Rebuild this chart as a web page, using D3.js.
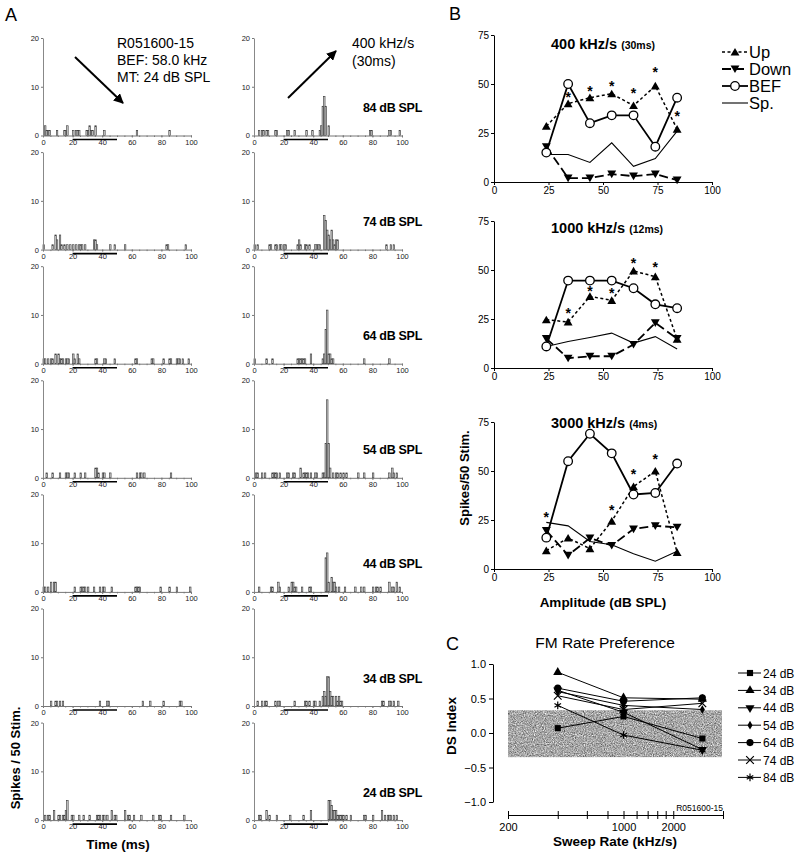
<!DOCTYPE html>
<html><head><meta charset="utf-8">
<script src="https://cdn.jsdelivr.net/npm/d3@7"></script>
<style>body{margin:0;background:#fff} text{font-family:"Liberation Sans",Arial,Helvetica,sans-serif}</style>
</head><body>
<svg id="chart" width="800" height="857"></svg>
<script>
// ---------- DATA ----------
// Panel A: PSTHs, [time bin (ms), spike count]
const levels = [84, 74, 64, 54, 44, 34, 24];
const levelLabels = ["84 dB SPL","74 dB SPL","64 dB SPL","54 dB SPL","44 dB SPL","34 dB SPL","24 dB SPL"];
const psthBEF = [
  [[1,2],[2,1],[3,1],[4,1],[9,1],[14,1],[15,1],[16,2],[20,1],[22,1],[23,1],[24,1],[29,1],[30,1],[31,2],[32,1],[33,1],[35,2],[41,1],[63,1],[85,1]],
  [[0,1],[6,1],[8,3],[9,2],[11,3],[12,1],[14,1],[16,1],[18,1],[20,1],[22,1],[24,1],[25,1],[26,1],[28,1],[34,2],[35,2],[36,1],[45,1],[48,1],[55,1],[83,1],[84,1],[96,1]],
  [[0,1],[1,1],[3,1],[5,1],[6,1],[8,2],[10,2],[11,1],[12,1],[13,1],[15,1],[16,1],[17,1],[20,2],[21,1],[23,2],[24,1],[35,1],[36,1],[41,1],[42,1],[48,1],[62,1],[63,1],[73,1],[74,1],[81,1],[85,1],[86,1],[90,1],[91,1],[92,1],[94,1],[98,1]],
  [[2,1],[6,1],[11,1],[15,1],[16,1],[17,1],[21,1],[25,1],[28,1],[35,2],[36,2],[37,1],[40,1],[41,1],[45,1],[63,1],[65,1],[66,1],[68,1],[86,1]],
  [[0,1],[1,1],[3,1],[5,2],[7,2],[8,2],[21,1],[25,1],[26,1],[27,1],[28,1],[30,1],[34,1],[38,1],[40,1],[41,1],[46,1],[62,1],[63,1],[64,1],[65,1],[79,1],[85,1],[90,1],[99,1]],
  [[5,1],[8,1],[9,1],[11,1],[13,1],[38,1],[43,1],[44,1],[67,1],[72,1],[81,1],[92,1],[93,1]],
  [[1,1],[3,1],[4,1],[7,2],[10,1],[11,1],[13,1],[14,1],[15,2],[16,4],[19,1],[20,1],[24,1],[27,1],[31,1],[36,1],[37,1],[38,1],[40,1],[41,1],[43,1],[46,2],[48,1],[49,1],[55,2],[57,1],[58,1],[61,1],[66,1],[74,1],[78,1],[79,1],[86,1],[95,1]]
];
const psthUp400 = [
  [[3,1],[5,1],[6,1],[8,1],[9,1],[14,1],[15,1],[22,1],[23,1],[27,1],[35,1],[39,1],[44,1],[45,2],[46,6],[47,8],[48,6],[50,2],[78,1],[79,1],[91,1],[92,1],[98,1]],
  [[0,1],[2,1],[10,1],[11,1],[14,1],[15,1],[17,1],[18,1],[20,1],[21,1],[29,1],[30,2],[31,1],[34,1],[35,1],[37,1],[41,1],[42,1],[43,1],[44,1],[47,7],[48,6],[49,4],[50,3],[51,2],[52,4],[53,2],[54,1],[55,2],[56,2],[89,1],[92,1],[94,1]],
  [[0,1],[8,1],[12,1],[29,1],[30,1],[31,1],[32,1],[33,1],[34,1],[38,2],[46,1],[47,2],[48,7],[49,11],[50,2],[51,2],[52,1],[53,1],[74,1],[91,1]],
  [[1,1],[2,1],[5,1],[7,1],[12,1],[13,1],[14,1],[15,1],[17,1],[22,1],[23,1],[26,1],[27,1],[31,2],[33,1],[34,1],[35,1],[36,1],[38,1],[41,1],[42,1],[46,1],[47,1],[48,7],[49,16],[50,7],[51,2],[53,1],[55,1],[56,1],[58,1],[60,1],[62,1],[70,1],[74,1],[80,1],[91,1],[93,2],[94,1],[96,1]],
  [[3,1],[11,1],[12,1],[16,2],[17,1],[23,1],[25,2],[26,2],[27,1],[28,1],[32,1],[37,1],[38,1],[48,7],[49,8],[50,2],[52,3],[53,2],[54,2],[55,1],[57,1],[61,1],[68,1],[72,1],[74,1],[80,1],[82,1],[83,1],[85,1],[91,2],[93,1],[94,1],[96,2],[98,1]],
  [[2,1],[5,1],[7,1],[8,1],[14,1],[16,1],[17,1],[27,1],[34,1],[35,1],[37,1],[40,1],[41,1],[44,1],[46,2],[47,3],[48,2],[49,6],[50,6],[51,3],[52,2],[53,2],[55,2],[56,1],[57,2],[58,1],[59,1],[86,1],[87,1],[91,1],[92,1],[94,1],[97,1]],
  [[3,1],[4,1],[8,2],[10,1],[15,1],[24,1],[33,1],[38,2],[50,4],[51,4],[52,3],[53,2],[54,2],[55,2],[56,1],[57,1],[58,1],[59,1],[60,1],[62,1],[65,1],[74,1],[75,1],[80,1],[86,2],[88,1],[90,1],[91,1],[92,1],[94,1],[96,1]]
];
const psthXTicks = [0, 20, 40, 60, 80, 100];
const psthYTicks = [0, 10, 20];
const stimWindow = [20, 50];

// Panel B: rate-level functions
const amplitudes = [24, 34, 44, 54, 64, 74, 84];
const rateTitles = ["400 kHz/s", "1000 kHz/s", "3000 kHz/s"];
const rateDurations = ["(30ms)", "(12ms)", "(4ms)"];
const upSpikes = [
  [28.5, 40, 43, 45, 39, 49, 27],
  [24.6, 23.5, 36.5, 34.5, 49.5, 46.6, 14.7],
  [9.4, 15.8, 10.4, 24.4, 42, 50, 8.5]
];
const downSpikes = [
  [18, 2, 2, 4, 3, 4, 1],
  [15, 5, 6, 6, 12, 23, 15],
  [19.6, 7, 15.8, 12, 20.4, 22, 21.3]
];
const befSpikes = [
  [15, 50, 30, 34, 34, 18, 43],
  [11, 44.6, 44.6, 44.6, 40.7, 32.5, 30.5],
  [16, 55, 69, 59, 38, 38.8, 53.8]
];
const spontSpikes = [
  [14, 14, 10, 20, 8, 12, 26],
  [11, 13.5, 15.6, 17.8, 12.7, 16, 9.7],
  [23.8, 22, 14, 12.4, 7.8, 4, 9]
];
const starAmps = [
  [34, 44, 54, 64, 74, 84],
  [34, 44, 54, 64, 74],
  [24, 54, 64, 74]
];
const starLevels = [
  [45, 48, 50.5, 47, 57.5, 35],
  [29.7, 41, 39.8, 55, 53],
  [28.3, 31.7, 50, 57.6]
];
const bXTicks = [0, 25, 50, 75, 100];
const bYTicks = [0, 25, 50, 75];
const bLegend = ["Up", "Down", "BEF", "Sp."];

// Panel C: DS index
const sweepRates = [400, 1000, 3000];
const dsLevels = ["24 dB", "34 dB", "44 dB", "54 dB", "64 dB", "74 dB", "84 dB"];
const dsIndex = [
  [0.07, 0.24, -0.08],
  [0.88, 0.51, 0.49],
  [0.62, 0.30, -0.24],
  [0.60, 0.40, 0.34],
  [0.65, 0.46, 0.51],
  [0.54, 0.34, 0.43],
  [0.40, -0.03, -0.25]
];
const dsBand = [-0.35, 0.33];
const cXTicks = [200, 400, 600, 800, 1000, 1200, 1400, 1600, 1800, 2000, 4000];
const cXLabels = [200, 1000, 2000];
const cYTicks = [-1, -0.5, 0, 0.5, 1];

// ---------- DRAW ----------
const svg = d3.select("#chart");
const FONT = '"Liberation Sans", Arial, Helvetica, sans-serif';

const defs = svg.append("defs");
defs.append("marker").attr("id","arrow").attr("viewBox","0 0 10 10").attr("refX",9).attr("refY",5)
  .attr("markerWidth",5).attr("markerHeight",5).attr("orient","auto")
  .append("path").attr("d","M0,0 L10,5 L0,10 Z").attr("fill","#000");
const flt = defs.append("filter").attr("id","noise").attr("x",0).attr("y",0).attr("width","100%").attr("height","100%")
  .attr("color-interpolation-filters","sRGB");
flt.append("feTurbulence").attr("type","fractalNoise").attr("baseFrequency","0.9").attr("numOctaves",2).attr("seed",4).attr("result","t");
flt.append("feColorMatrix").attr("in","t").attr("type","matrix")
  .attr("values","0.6 0.6 0 0 0.05  0.6 0.6 0 0 0.05  0.6 0.6 0 0 0.05  0 0 0 0 1").attr("result","g");
flt.append("feComposite").attr("in","g").attr("in2","SourceGraphic").attr("operator","in");

// panel letters
svg.append("text").attr("x",5).attr("y",21).attr("font-size",18).text("A");
svg.append("text").attr("x",449).attr("y",20).attr("font-size",18).text("B");
svg.append("text").attr("x",446).attr("y",650).attr("font-size",18).text("C");

// ---- Panel A ----
const rowTop0 = 38, rowStep = 114.1, rowH = 97.5;
function psth(data, x0, x1, top) {
  const base = top + rowH;
  const g = svg.append("g");
  const xs = d3.scaleLinear().domain([0,100]).range([x0,x1]);
  const ys = d3.scaleLinear().domain([0,20]).range([base, top]);
  g.selectAll("rect.bar").data(data).join("rect").attr("class","bar")
    .attr("x", d => xs(d[0])).attr("width", d => xs(d[0]+1)-xs(d[0]))
    .attr("y", d => ys(d[1])).attr("height", d => base - ys(d[1]))
    .attr("fill","#d0d0d0").attr("stroke","#333").attr("stroke-width",0.6);
  const gm = g.append("g").attr("transform",`translate(0,${base})`)
    .call(d3.axisBottom(xs).tickValues(d3.range(0,101,5)).tickSize(1.5).tickFormat(""));
  gm.select(".domain").remove();
  gm.selectAll("line").attr("stroke","#777");
  const gx = g.append("g").attr("transform",`translate(0,${base})`)
    .call(d3.axisBottom(xs).tickValues(psthXTicks).tickSize(2).tickPadding(2).tickSizeOuter(0));
  gx.select(".domain").attr("stroke","#777");
  gx.selectAll("line").attr("stroke","#777");
  gx.selectAll("text").attr("font-size",7.5).attr("font-family",FONT).attr("fill","#222");
  const gy = g.append("g").attr("transform",`translate(${x0},0)`)
    .call(d3.axisLeft(ys).tickValues(psthYTicks).tickSize(2).tickPadding(2).tickSizeOuter(0));
  gy.select(".domain").attr("stroke","#888");
  gy.selectAll("line").attr("stroke","#777");
  gy.selectAll("text").attr("font-size",7.5).attr("font-family",FONT).attr("fill","#222");
  g.append("line").attr("x1",xs(stimWindow[0])).attr("x2",xs(stimWindow[1]))
    .attr("y1",base+4).attr("y2",base+4).attr("stroke","#000").attr("stroke-width",1.6);
}
levels.forEach((lv,i) => {
  const top = rowTop0 + i*rowStep;
  psth(psthBEF[i], 43, 191, top);
  psth(psthUp400[i], 254, 402, top);
  svg.append("text").attr("x",422).attr("y",top+74).attr("text-anchor","end")
    .attr("font-size",12.5).attr("font-weight","bold").attr("letter-spacing",-0.3).text(levelLabels[i]);
});
["R051600-15","BEF: 58.0 kHz","MT: 24 dB SPL"].forEach((t,i)=>{
  svg.append("text").attr("x",117).attr("y",48+i*17).attr("font-size",14).text(t);
});
["400 kHz/s","(30ms)"].forEach((t,i)=>{
  svg.append("text").attr("x",352).attr("y",48+i*18).attr("font-size",14).text(t);
});
svg.append("line").attr("x1",75).attr("y1",57).attr("x2",123).attr("y2",103)
  .attr("stroke","#000").attr("stroke-width",2).attr("marker-end","url(#arrow)");
svg.append("line").attr("x1",288).attr("y1",98).attr("x2",336).attr("y2",51)
  .attr("stroke","#000").attr("stroke-width",2).attr("marker-end","url(#arrow)");
svg.append("text").attr("x",118).attr("y",849).attr("text-anchor","middle")
  .attr("font-size",13.5).attr("font-weight","bold").text("Time (ms)");
svg.append("text").attr("transform","translate(20,758) rotate(-90)").attr("text-anchor","middle")
  .attr("font-size",13).attr("font-weight","bold").text("Spikes / 50 Stim.");

// ---- Panel B ----
const bBase = [182, 368, 569];
const bTitleOffset = [133, 135, 141];
const bx = d3.scaleLinear().domain([0,100]).range([494,712]);
const triUp = d3.symbol().type(d3.symbolTriangle).size(34);
const triDn = d3.symbol().type(d3.symbolTriangle).size(34);
function drawSeries(g, xs, ys, vals, style) {
  const pts = amplitudes.map((a,i)=>[a, vals[i]]);
  g.append("path").datum(pts)
    .attr("d", d3.line().x(d=>xs(d[0])).y(d=>ys(d[1])))
    .attr("fill","none").attr("stroke","#000").attr("stroke-width",style.w)
    .attr("stroke-dasharray",style.dash || null);
  if (style.marker === "up") {
    g.selectAll(null).data(pts).join("path").attr("d",triUp())
      .attr("transform",d=>`translate(${xs(d[0])},${ys(d[1])+1})`).attr("fill","#000");
  } else if (style.marker === "down") {
    g.selectAll(null).data(pts).join("path").attr("d",triDn())
      .attr("transform",d=>`translate(${xs(d[0])},${ys(d[1])-1}) rotate(180)`).attr("fill","#000");
  } else if (style.marker === "circle") {
    g.selectAll(null).data(pts).join("circle").attr("cx",d=>xs(d[0])).attr("cy",d=>ys(d[1]))
      .attr("r",4.3).attr("fill","#fff").attr("stroke","#000").attr("stroke-width",1.3);
  }
}
const styles = {
  up: {w:1.5, dash:"3,2.5", marker:"up"},
  down: {w:1.8, dash:"9,4", marker:"down"},
  bef: {w:1.8, marker:"circle"},
  sp: {w:1.1}
};
rateTitles.forEach((t,p) => {
  const base = bBase[p];
  const ys = d3.scaleLinear().domain([0,75]).range([base, base-147]);
  const g = svg.append("g");
  const gx = g.append("g").attr("transform",`translate(0,${base})`)
    .call(d3.axisBottom(bx).tickValues(bXTicks).tickSize(3).tickSizeOuter(0).tickPadding(2));
  gx.selectAll("text").attr("font-size",10).attr("font-family",FONT);
  const gy = g.append("g").attr("transform",`translate(${bx(0)},0)`)
    .call(d3.axisLeft(ys).tickValues(bYTicks).tickSize(3).tickSizeOuter(0).tickPadding(2));
  gy.selectAll("text").attr("font-size",10).attr("font-family",FONT);
  const title = g.append("text").attr("x",551).attr("y",base-bTitleOffset[p]).attr("font-weight","bold").attr("font-size",14.5);
  title.append("tspan").text(t + " ");
  title.append("tspan").attr("font-size",10.5).text(rateDurations[p]);
  drawSeries(g, bx, ys, spontSpikes[p], styles.sp);
  drawSeries(g, bx, ys, downSpikes[p], styles.down);
  drawSeries(g, bx, ys, upSpikes[p], styles.up);
  drawSeries(g, bx, ys, befSpikes[p], styles.bef);
  g.selectAll(null).data(starAmps[p].map((a,i)=>[a, starLevels[p][i]])).join("text")
    .attr("x",d=>bx(d[0])).attr("y",d=>ys(d[1])+8).attr("text-anchor","middle")
    .attr("font-size",14).attr("font-weight","bold").text("*");
});
svg.append("text").attr("transform","translate(469,478) rotate(-90)").attr("text-anchor","middle")
  .attr("font-size",13).attr("font-weight","bold").text("Spikes/50 Stim.");
svg.append("text").attr("x",603).attr("y",607).attr("text-anchor","middle")
  .attr("font-size",13.5).attr("font-weight","bold").text("Amplitude (dB SPL)");
const legStyles = [styles.up, styles.down, styles.bef, styles.sp];
bLegend.forEach((name,i)=>{
  const y = 52 + i*17;
  const g = svg.append("g");
  g.append("line").attr("x1",722).attr("x2",748).attr("y1",y).attr("y2",y)
    .attr("stroke","#000").attr("stroke-width",legStyles[i].w).attr("stroke-dasharray",legStyles[i].dash||null);
  const m = legStyles[i].marker;
  if (m==="up") g.append("path").attr("d",triUp()).attr("transform",`translate(735,${y+1})`);
  if (m==="down") g.append("path").attr("d",triDn()).attr("transform",`translate(735,${y-1}) rotate(180)`);
  if (m==="circle") g.append("circle").attr("cx",735).attr("cy",y).attr("r",4.3).attr("fill","#fff").attr("stroke","#000").attr("stroke-width",1.3);
  g.append("text").attr("x",749).attr("y",y+6).attr("font-size",16.5).text(name);
});

// ---- Panel C ----
const cx = d3.scaleLog().domain([200,4000]).range([508,723]);
const cy = d3.scaleLinear().domain([-1,1]).range([802,664]);
svg.append("rect").attr("x",cx(200)).attr("width",cx(4000)-cx(200)-1)
  .attr("y",cy(dsBand[1])).attr("height",cy(dsBand[0])-cy(dsBand[1]))
  .attr("fill","#999").attr("filter","url(#noise)");
svg.append("text").attr("x",605).attr("y",648).attr("text-anchor","middle").attr("font-size",15.5).text("FM Rate Preference");
const cgy = svg.append("g").attr("transform","translate(493,0)")
  .call(d3.axisLeft(cy).tickValues(cYTicks).tickFormat(d3.format(".1f")).tickSize(4).tickSizeOuter(0).tickPadding(3));
cgy.selectAll("text").attr("font-size",11).attr("font-family",FONT);
const cgx = svg.append("g").attr("transform","translate(0,815)")
  .call(d3.axisBottom(cx).tickValues(cXTicks).tickSize(4).tickSizeOuter(0).tickPadding(4)
    .tickFormat(d => cXLabels.includes(d) ? String(d) : ""));
cgx.selectAll(".tick line").attr("y1",-4);
cgx.selectAll("text").attr("font-size",11).attr("font-family",FONT);
svg.append("text").attr("x",723).attr("y",811).attr("text-anchor","end").attr("font-size",8.5).text("R051600-15");
svg.append("text").attr("transform","translate(456,726) rotate(-90)").attr("text-anchor","middle")
  .attr("font-size",13.5).attr("font-weight","bold").text("DS Index");
svg.append("text").attr("x",615).attr("y",846).attr("text-anchor","middle")
  .attr("font-size",13.5).attr("font-weight","bold").text("Sweep Rate (kHz/s)");

const symTimes = d3.symbolTimes || d3.symbolX;
const symAst = d3.symbolAsterisk || d3.symbolCross;
const cMarkers = [
  {type:d3.symbolSquare, size:38, rot:0, fill:true},
  {type:d3.symbolTriangle, size:36, rot:0, fill:true},
  {type:d3.symbolTriangle, size:36, rot:180, fill:true},
  {type:d3.symbolDiamond, size:22, rot:0, fill:true},
  {type:d3.symbolCircle, size:40, rot:0, fill:true},
  {type:symTimes, size:40, rot:0, fill:false},
  {type:symAst, size:40, rot:0, fill:false}
];
function cMarker(sel, k) {
  const m = cMarkers[k];
  sel.attr("d", d3.symbol().type(m.type).size(m.size)())
    .attr("fill", m.fill ? "#000" : "none").attr("stroke", m.fill ? "none" : "#000").attr("stroke-width",1.2);
}
dsIndex.forEach((vals,k)=>{
  const pts = sweepRates.map((r,i)=>[r, vals[i]]);
  svg.append("path").datum(pts).attr("d", d3.line().x(d=>cx(d[0])).y(d=>cy(d[1])))
    .attr("fill","none").attr("stroke","#000").attr("stroke-width",1);
  svg.selectAll(null).data(pts).join("path")
    .attr("transform", d=>`translate(${cx(d[0])},${cy(d[1])}) rotate(${cMarkers[k].rot})`)
    .call(s=>cMarker(s,k));
});
dsLevels.forEach((name,k)=>{
  const y = 673 + k*17.4;
  svg.append("line").attr("x1",738).attr("x2",761).attr("y1",y).attr("y2",y).attr("stroke","#000").attr("stroke-width",1);
  svg.append("path").attr("transform",`translate(750,${y}) rotate(${cMarkers[k].rot})`).call(s=>cMarker(s,k));
  svg.append("text").attr("x",763).attr("y",y+4.5).attr("font-size",12).text(name);
});
</script>
</body></html>
